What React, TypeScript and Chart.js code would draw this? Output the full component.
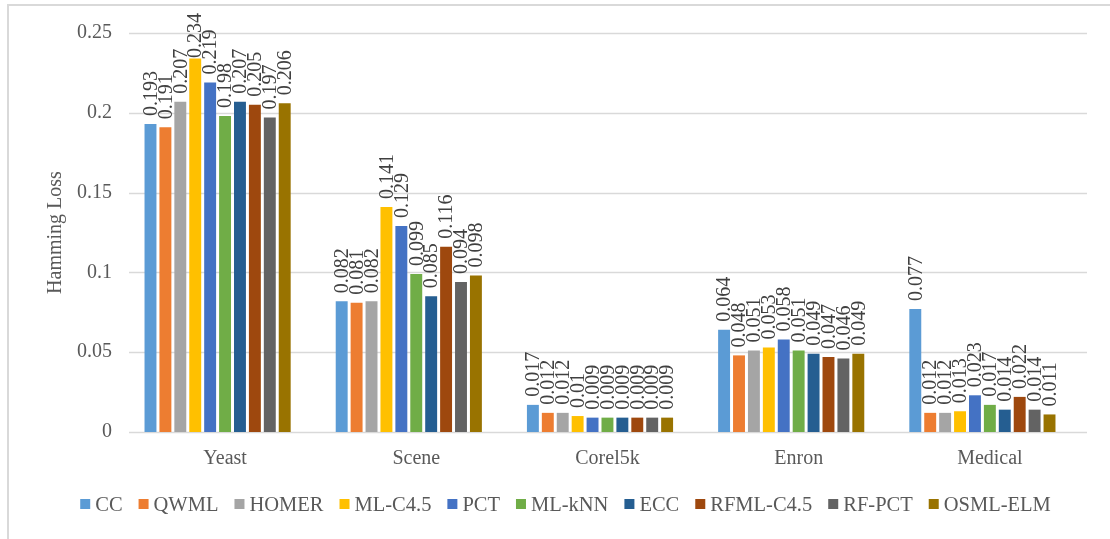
import React, { useEffect, useRef } from "react";
import { Chart, registerables } from "chart.js";

Chart.register(...registerables);

const categories = ["Yeast", "Scene", "Corel5k", "Enron", "Medical"];
const seriesNames = ["CC", "QWML", "HOMER", "ML-C4.5", "PCT", "ML-kNN", "ECC", "RFML-C4.5", "RF-PCT", "OSML-ELM"];
const seriesColors = ["#5B9BD5", "#ED7D31", "#A5A5A5", "#FFC000", "#4472C4", "#70AD47", "#255E91", "#9E480E", "#636363", "#997300"];

const cc = [0.193, 0.082, 0.017, 0.064, 0.077];
const qwml = [0.191, 0.081, 0.012, 0.048, 0.012];
const homer = [0.207, 0.082, 0.012, 0.051, 0.012];
const mlC45 = [0.234, 0.141, 0.01, 0.053, 0.013];
const pct = [0.219, 0.129, 0.009, 0.058, 0.023];
const mlKnn = [0.198, 0.099, 0.009, 0.051, 0.017];
const ecc = [0.207, 0.085, 0.009, 0.049, 0.014];
const rfmlC45 = [0.205, 0.116, 0.009, 0.047, 0.022];
const rfPct = [0.197, 0.094, 0.009, 0.046, 0.014];
const osmlElm = [0.206, 0.098, 0.009, 0.049, 0.011];

const seriesValues = [cc, qwml, homer, mlC45, pct, mlKnn, ecc, rfmlC45, rfPct, osmlElm];
const yTickValues = [0, 0.05, 0.1, 0.15, 0.2, 0.25];
const yTickLabels = ["0", "0.05", "0.1", "0.15", "0.2", "0.25"];
const yAxisTitle = "Hamming Loss";

const FONT = "'Liberation Serif', 'Times New Roman', serif";
const TEXT = "#595959";

const decorPlugin = {
  id: "decor",
  beforeDraw(chart: any) {
    const ctx = chart.ctx;
    ctx.save();
    ctx.fillStyle = "#ffffff";
    ctx.fillRect(0, 0, chart.width, chart.height);
    ctx.strokeStyle = "#D9D9D9";
    ctx.lineWidth = 2;
    ctx.beginPath();
    ctx.moveTo(8, chart.height + 2);
    ctx.lineTo(8, 5);
    ctx.lineTo(chart.width + 2, 5);
    ctx.stroke();
    ctx.restore();
  },
  beforeDatasetsDraw(chart: any) {
    const ctx = chart.ctx;
    const ys = chart.scales.y;
    ctx.save();
    ctx.strokeStyle = "#D9D9D9";
    ctx.lineWidth = 1.5;
    yTickValues.forEach((v) => {
      const y = Math.round(ys.getPixelForValue(v)) + 0.5;
      ctx.beginPath();
      ctx.moveTo(129, y);
      ctx.lineTo(1087, y);
      ctx.stroke();
    });
    ctx.restore();
  },
  afterDraw(chart: any) {
    const ctx = chart.ctx;
    const area = chart.chartArea;
    ctx.save();
    ctx.fillStyle = TEXT;
    ctx.font = `20px ${FONT}`;
    ctx.translate(56, (area.top + area.bottom) / 2);
    ctx.rotate(-Math.PI / 2);
    ctx.textAlign = "center";
    ctx.textBaseline = "middle";
    ctx.fillText(yAxisTitle, 0, 0);
    ctx.restore();

    // legend
    ctx.save();
    ctx.font = `20.5px ${FONT}`;
    const box = 10;
    const gapText = 5;
    const gapItem = 16;
    const widths = seriesNames.map((n) => ctx.measureText(n).width);
    const total = widths.reduce((a, w) => a + box + gapText + w, 0) + gapItem * (seriesNames.length - 1);
    let x = 565.5 - total / 2;
    const cy = 505;
    ctx.textBaseline = "middle";
    ctx.textAlign = "left";
    seriesNames.forEach((n, i) => {
      ctx.fillStyle = seriesColors[i];
      ctx.fillRect(x, cy - 6, box, box);
      x += box + gapText;
      ctx.fillStyle = TEXT;
      ctx.fillText(n, x, cy + 1);
      x += widths[i] + gapItem;
    });
    ctx.restore();

    // data labels
    ctx.save();
    ctx.font = `20px ${FONT}`;
    ctx.fillStyle = "#404040";
    ctx.textAlign = "left";
    ctx.textBaseline = "middle";
    chart.data.datasets.forEach((ds: any, di: number) => {
      const meta = chart.getDatasetMeta(di);
      meta.data.forEach((el: any, i: number) => {
        const label = String(ds.data[i]);
        const w = ctx.measureText(label).width;
        let start = el.y - 8;
        if (start - w < 13) start = 13 + w;
        ctx.save();
        ctx.translate(el.x, start);
        ctx.rotate(-Math.PI / 2);
        ctx.fillText(label, 0, 1);
        ctx.restore();
      });
    });
    ctx.restore();
  },
};

export default function App() {
  const ref = useRef<HTMLCanvasElement | null>(null);

  useEffect(() => {
    if (!ref.current) return;
    const chart = new Chart(ref.current, {
      type: "bar",
      data: {
        labels: categories,
        datasets: seriesNames.map((name, i) => ({
          label: name,
          data: seriesValues[i],
          backgroundColor: seriesColors[i],
          borderWidth: 0,
          categoryPercentage: 0.78,
          barPercentage: 0.8,
        })),
      },
      options: {
        responsive: false,
        animation: false,
        devicePixelRatio: 1,
        layout: { padding: { left: 0, right: 32, top: 33, bottom: 0 } },
        plugins: {
          legend: { display: false },
          tooltip: { enabled: false },
        },
        scales: {
          x: {
            grid: { display: false, drawTicks: false },
            border: { display: false },
            ticks: {
              color: TEXT,
              font: { family: FONT, size: 20 },
              padding: 15,
              labelOffset: 7.5,
            },
            afterFit(scale: any) {
              scale.height = 107;
            },
          },
          y: {
            min: 0,
            max: 0.25,
            grid: { display: false, drawTicks: false },
            border: { display: false },
            ticks: {
              stepSize: 0.05,
              color: TEXT,
              font: { family: FONT, size: 20 },
              padding: 10,
              callback: (_v: any, idx: number) => yTickLabels[idx],
            },
            afterFit(scale: any) {
              scale.width = 122;
            },
          },
        },
      },
      plugins: [decorPlugin],
    });
    return () => chart.destroy();
  }, []);

  return (
    <div style={{ position: "absolute", left: 0, top: 0, width: 1110, height: 539, overflow: "hidden" }}>
      <canvas ref={ref} width={1110} height={539} style={{ width: 1110, height: 539, display: "block" }} />
    </div>
  );
}
